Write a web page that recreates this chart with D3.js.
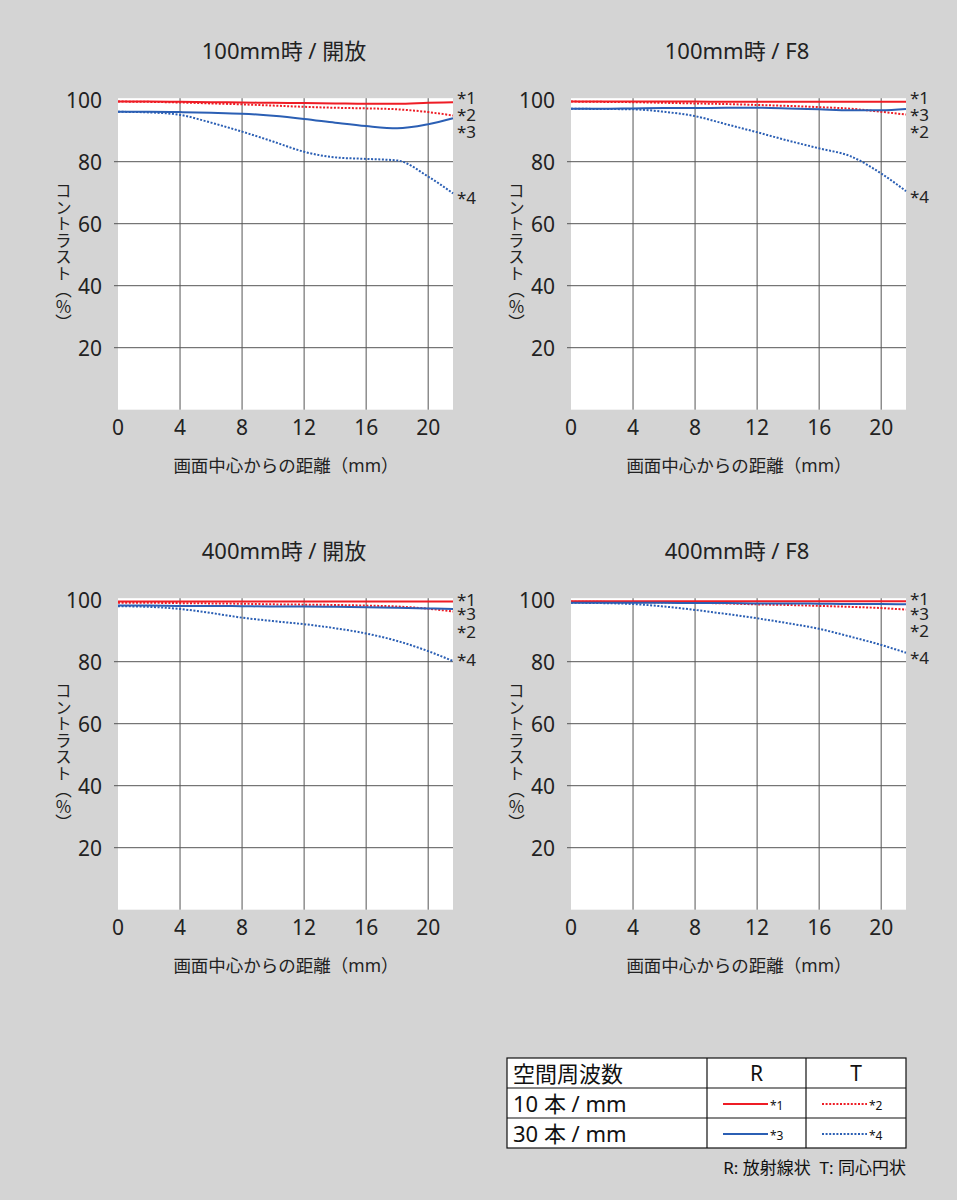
<!DOCTYPE html>
<html><head><meta charset="utf-8">
<script src="https://cdn.jsdelivr.net/npm/d3@7"></script>
<style>
body{margin:0;background:#d4d4d4;}
svg{display:block;font-family:"Noto Sans","Noto Sans CJK JP",sans-serif;}
</style></head>
<body><svg id="c" width="957" height="1200"></svg>
<script>
// distance from image centre (mm)
const xs = [0,2,4,6,8,10,12,14,16,18,20,21.6];
const xTicks = [0,4,8,12,16,20];
const yTicks = [20,40,60,80,100];

const titles = ["100mm時 / 開放","100mm時 / F8","400mm時 / 開放","400mm時 / F8"];

// *1 = 10本/mm R, *2 = 10本/mm T, *3 = 30本/mm R, *4 = 30本/mm T
const tl_r10 = [99.4,99.4,99.3,99.2,99.1,99.0,98.9,98.8,98.7,98.7,99.0,99.2];
const tl_t10 = [99.4,99.3,99.1,98.8,98.5,98.1,97.7,97.4,97.2,96.9,96.0,94.9];
const tl_r30 = [96.1,96.1,96.0,95.8,95.5,94.8,93.8,92.6,91.5,90.8,92.1,94.0];
const tl_t30 = [96.1,95.9,95.1,92.6,89.7,86.5,83.2,81.4,80.9,80.4,75.2,69.8];

const tr_r10 = [99.4,99.4,99.4,99.4,99.4,99.3,99.3,99.3,99.3,99.3,99.3,99.3];
const tr_t10 = [99.4,99.3,99.2,99.0,98.8,98.6,98.3,98.0,97.6,97.1,96.1,95.2];
const tr_r30 = [97.1,97.1,97.2,97.3,97.3,97.4,97.4,97.2,96.9,96.6,96.6,97.0];
const tr_t30 = [97.1,97.0,96.9,96.1,94.7,92.1,89.5,86.8,84.3,81.8,76.2,70.5];

const bl_r10 = [99.4,99.4,99.4,99.4,99.4,99.4,99.4,99.4,99.4,99.4,99.4,99.4];
const bl_t10 = [99.0,99.0,98.9,98.8,98.7,98.5,98.4,98.3,98.1,97.8,97.1,96.2];
const bl_r30 = [98.1,98.1,98.0,98.0,97.9,97.8,97.8,97.7,97.6,97.4,97.2,97.0];
const bl_t30 = [97.9,97.7,97.0,95.7,94.2,93.1,92.1,90.8,89.1,86.7,83.4,80.2];

const br_r10 = [99.5,99.5,99.5,99.5,99.5,99.5,99.5,99.5,99.5,99.5,99.5,99.5];
const br_t10 = [99.3,99.3,99.2,99.1,99.0,98.8,98.5,98.3,98.0,97.7,97.3,96.8];
const br_r30 = [99.0,99.0,99.0,99.0,98.9,98.9,98.8,98.8,98.7,98.6,98.6,98.5];
const br_t30 = [99.0,98.9,98.6,97.8,96.7,95.4,94.0,92.4,90.6,88.1,85.4,82.9];

// curve end-label values (in % units), order *1,*2,*3,*4
const tl_lab = [100.6,95.2,89.7,68.3];
const tr_lab = [100.6,89.7,95.2,68.8];
const bl_lab = [100.2,89.9,95.6,80.6];
const br_lab = [100.4,90.2,95.7,81.5];

const legendRows = ["10 本 / mm","30 本 / mm"];
const legendHead = ["空間周波数","R","T"];
const note = "R: 放射線状\u00a0\u00a0T: 同心円状";
const yLabel = "コントラスト（％）";
const xLabel = "画面中心からの距離（mm）";

const RED = "#ee1c25", BLUE = "#2b5fb4";
const svg = d3.select("#c");
svg.append("rect").attr("width",957).attr("height",1200).attr("fill","#d4d4d4");

const panels = [
  {ox:118, oy:0,   data:[tl_r10,tl_t10,tl_r30,tl_t30], lab:tl_lab},
  {ox:571, oy:0,   data:[tr_r10,tr_t10,tr_r30,tr_t30], lab:tr_lab},
  {ox:118, oy:500, data:[bl_r10,bl_t10,bl_r30,bl_t30], lab:bl_lab},
  {ox:571, oy:500, data:[br_r10,br_t10,br_r30,br_t30], lab:br_lab}
];
const styles = [
  {c:RED, dash:null},{c:RED, dash:"2,1.6"},{c:BLUE, dash:null},{c:BLUE, dash:"2,1.6"}
];

panels.forEach((p,i)=>{
  const x = d3.scaleLinear().domain([0,21.6]).range([p.ox, p.ox+335]);
  const y = d3.scaleLinear().domain([0,100]).range([p.oy+409.7, p.oy+99.7]);
  const g = svg.append("g");
  g.append("rect").attr("x",x(0)).attr("y",y(100)-1.5).attr("width",x(21.6)-x(0))
    .attr("height",y(0)-y(100)+1.5).attr("fill","#fff");
  // grid
  g.selectAll(".vg").data(xTicks.filter(d=>d>0)).join("line")
    .attr("x1",d=>x(d)).attr("x2",d=>x(d)).attr("y1",y(100)-1.5).attr("y2",y(0))
    .attr("stroke","#555").attr("stroke-width",1);
  g.selectAll(".hg").data(yTicks.filter(d=>d<100)).join("line")
    .attr("x1",x(0)-4).attr("x2",x(21.6)).attr("y1",d=>y(d)).attr("y2",d=>y(d))
    .attr("stroke","#555").attr("stroke-width",1);
  // tick labels
  g.selectAll(".yt").data(yTicks).join("text")
    .attr("x",x(0)-16).attr("y",d=>y(d)).attr("text-anchor","end")
    .attr("dominant-baseline","central").attr("font-size",21).attr("fill","#222").text(d=>d);
  g.selectAll(".xt").data(xTicks).join("text")
    .attr("x",d=>x(d)).attr("y",y(0)+17).attr("text-anchor","middle")
    .attr("dominant-baseline","central").attr("font-size",21).attr("fill","#222").text(d=>d);
  // title
  g.append("text").attr("x",x(0)+166).attr("y",p.oy+50).attr("text-anchor","middle")
    .attr("dominant-baseline","central").attr("font-size",22).attr("fill","#222").text(titles[i]);
  g.append("text").attr("x",x(0)+168).attr("y",p.oy+465).attr("text-anchor","middle")
    .attr("dominant-baseline","central").attr("font-size",17.5).attr("fill","#222").text(xLabel);
  g.append("text").attr("x",x(0)-55).attr("y",p.oy+257).attr("text-anchor","middle")
    .style("writing-mode","vertical-rl").attr("font-size",16.5).attr("fill","#222").text(yLabel);
  // curves
  const line = d3.line().x((d,k)=>x(xs[k])).y(d=>y(d)).curve(d3.curveMonotoneX);
  [1,3,0,2].forEach(k=>{
    g.append("path").attr("d",line(p.data[k])).attr("fill","none")
      .attr("stroke",styles[k].c).attr("stroke-width",2)
      .attr("stroke-dasharray",styles[k].dash);
  });
  // end labels
  p.lab.forEach((v,k)=>{
    g.append("text").attr("x",x(21.6)+4).attr("y",y(v)).attr("dominant-baseline","central")
      .attr("font-size",17).attr("fill","#222").text("*"+(k+1));
  });
});

// legend table
const L = {x:507, y:1058, w:399, rh:30, c1:707, c2:806};
const lg = svg.append("g");
lg.append("rect").attr("x",L.x).attr("y",L.y).attr("width",L.w).attr("height",L.rh*3)
  .attr("fill","#fff").attr("stroke","#111").attr("stroke-width",1.2);
[1,2].forEach(r=>lg.append("line").attr("x1",L.x).attr("x2",L.x+L.w)
  .attr("y1",L.y+r*L.rh).attr("y2",L.y+r*L.rh).attr("stroke","#111").attr("stroke-width",1.2));
[L.c1,L.c2].forEach(c=>lg.append("line").attr("x1",c).attr("x2",c)
  .attr("y1",L.y).attr("y2",L.y+3*L.rh).attr("stroke","#111").attr("stroke-width",1.2));
lg.append("text").attr("x",L.x+6).attr("y",L.y+15).attr("dominant-baseline","central")
  .attr("font-size",22).attr("fill","#111").text(legendHead[0]);
lg.append("text").attr("x",(L.c1+L.c2)/2).attr("y",L.y+15).attr("dominant-baseline","central")
  .attr("text-anchor","middle").attr("font-size",21).attr("fill","#111").text(legendHead[1]);
lg.append("text").attr("x",(L.c2+L.x+L.w)/2).attr("y",L.y+15).attr("dominant-baseline","central")
  .attr("text-anchor","middle").attr("font-size",21).attr("fill","#111").text(legendHead[2]);
legendRows.forEach((t,r)=>{
  const cy = L.y+(r+1)*L.rh+15;
  lg.append("text").attr("x",L.x+6).attr("y",cy).attr("dominant-baseline","central")
    .attr("font-size",22).attr("fill","#111").text(t);
  [0,1].forEach(c=>{
    const k = r*2+c;
    const x0 = (c===0?L.c1:L.c2)+16;
    lg.append("line").attr("x1",x0).attr("x2",x0+45).attr("y1",cy+1).attr("y2",cy+1)
      .attr("stroke",styles[k].c).attr("stroke-width",2).attr("stroke-dasharray",styles[k].dash);
    lg.append("text").attr("x",x0+47).attr("y",cy+2).attr("dominant-baseline","central")
      .attr("font-size",12).attr("fill","#111").text("*"+(k+1));
  });
});
lg.append("text").attr("x",906).attr("y",1167).attr("text-anchor","end").attr("dominant-baseline","central")
  .attr("font-size",17).attr("fill","#111").text(note);
</script></body></html>
